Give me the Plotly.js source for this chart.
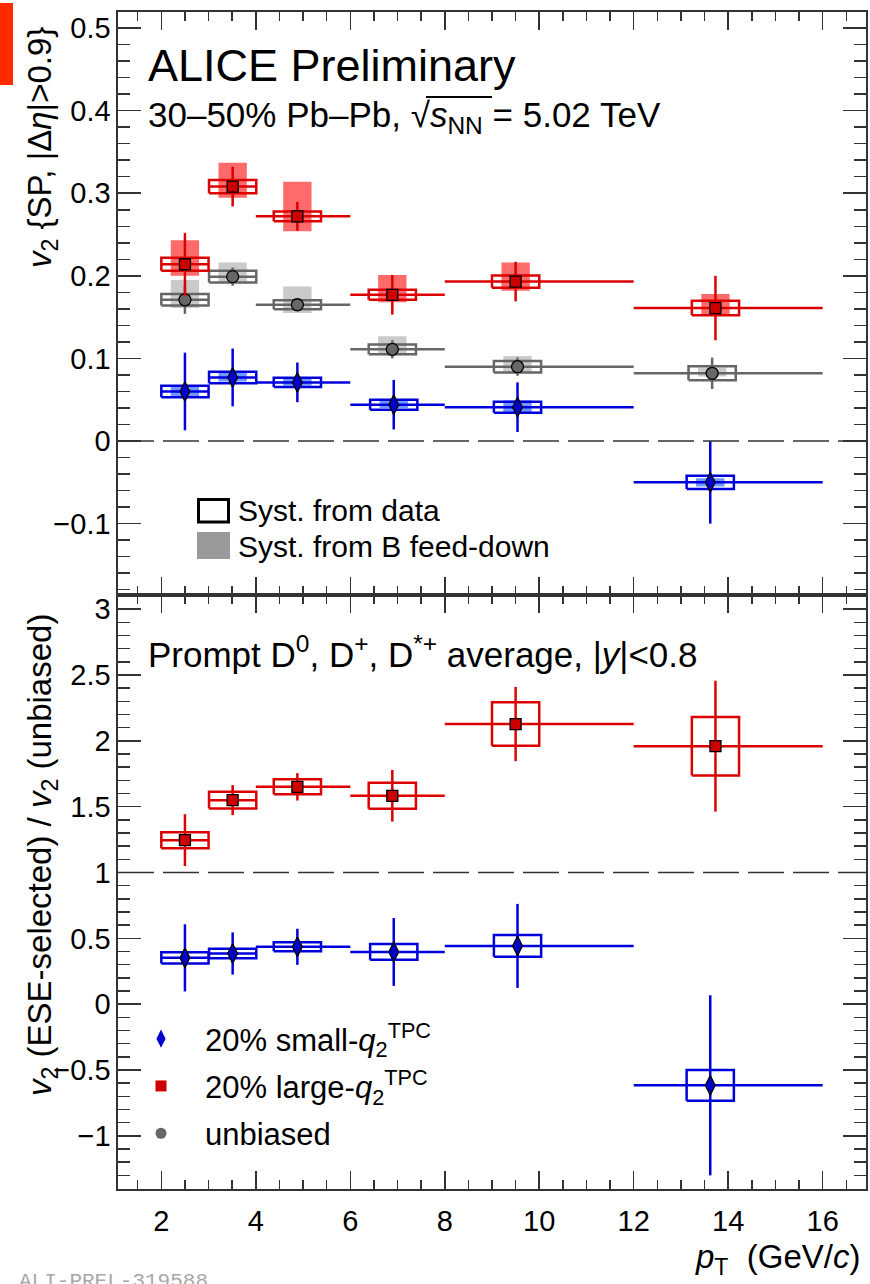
<!DOCTYPE html>
<html><head><meta charset="utf-8">
<script src="https://cdn.plot.ly/plotly-3.0.1.min.js"></script>
<style>html,body{margin:0;padding:0;background:#fff;} #chart{width:870px;height:1284px;}</style>
</head><body><div id="chart"></div>
<script>
// ---------------- data ----------------
const binLo = [2, 3, 4, 6, 8, 12];
const binHi = [3, 4, 6, 8, 12, 16];
const ptRed  = [2.50, 3.51, 4.88, 6.89, 9.50, 13.73];
const ptGray = [2.50, 3.51, 4.88, 6.89, 9.54, 13.66];
const ptBlue = [2.50, 3.51, 4.88, 6.92, 9.54, 13.62];

// v2{SP} (top panel)
const redV2      = [0.214, 0.308, 0.272, 0.177, 0.193, 0.161];
const redV2Stat  = [0.038, 0.024, 0.0175, 0.024, 0.024, 0.039];
const redV2Syst  = [0.008, 0.008, 0.006, 0.006, 0.0075, 0.0087];
const redFdUp    = [0.029, 0.029, 0.042, 0.024, 0.023, 0.017];
const redFdDn    = [0.014, 0.0135, 0.018, 0.009, 0.011, 0.009];

const grayV2     = [0.171, 0.199, 0.165, 0.111, 0.090, 0.082];
const grayV2Stat = [0.017, 0.011, 0.007, 0.011, 0.011, 0.019];
const grayV2Syst = [0.007, 0.007, 0.0055, 0.006, 0.007, 0.0085];
const grayFdUp   = [0.024, 0.017, 0.022, 0.016, 0.013, 0.007];
const grayFdDn   = [0.010, 0.008, 0.010, 0.007, 0.006, 0.004];

const blueV2     = [0.060, 0.077, 0.071, 0.044, 0.041, -0.050];
const blueV2Stat = [0.047, 0.035, 0.024, 0.030, 0.030, 0.050];
const blueV2Syst = [0.007, 0.007, 0.0057, 0.006, 0.0067, 0.008];
const blueFdUp   = [0.006, 0.006, 0.005, 0.005, 0.008, 0.005];
const blueFdDn   = [0.006, 0.005, 0.004, 0.004, 0.007, 0.005];

// ratio ESE-selected / unbiased (bottom panel)
const redRatio      = [1.246, 1.550, 1.651, 1.583, 2.128, 1.960];
const redRatioStat  = [0.197, 0.114, 0.104, 0.196, 0.282, 0.497];
const redRatioSyst  = [0.061, 0.063, 0.057, 0.099, 0.165, 0.222];
const blueRatio     = [0.352, 0.385, 0.436, 0.397, 0.443, -0.616];
const blueRatioStat = [0.255, 0.160, 0.137, 0.258, 0.319, 0.684];
const blueRatioSyst = [0.042, 0.036, 0.034, 0.060, 0.083, 0.117];

const xTickVals = [2, 4, 6, 8, 10, 12, 14, 16];

// ---------------- styling ----------------
const FONT = 'Liberation Sans, Arial, Helvetica, sans-serif';
const RED = '#dd0000', RED_M = '#cc0000', RED_F = '#ff6b6b';
const GRAY = '#666666', GRAY_M = '#676767', GRAY_F = '#cacaca';
const BLUE = '#0000dd', BLUE_M = '#0000cc', BLUE_F = '#6d98ff';
const BOX_HW = 0.5, FILL_HW = 0.3;

// pixel -> paper helpers (plot area: x 118..866, y 12..1189)
const L = 118, R = 4, T = 12, B = 95, W = 870, H = 1284;
const PW = W - L - R, PH = H - T - B;
const px = p => (p - L) / PW;
const py = p => (H - B - p) / PH;
const SPLIT = (H - B - 595) / PH;

function boxTrace(xs, ys, hs, hw, color, yaxis) {
  const bx = [], by = [];
  xs.forEach((x, i) => {
    const lo = ys[i] - hs[i], hi = ys[i] + hs[i];
    bx.push(x - hw, x + hw, x + hw, x - hw, x - hw, null);
    by.push(lo, lo, hi, hi, lo, null);
  });
  return {x: bx, y: by, xaxis: yaxis === 'y2' ? 'x2' : 'x', yaxis, mode: 'lines',
          line: {color, width: 2.5}, hoverinfo: 'skip', showlegend: false};
}
function fillTrace(xs, ys, up, dn, hw, color, yaxis) {
  const bx = [], by = [];
  xs.forEach((x, i) => {
    const lo = ys[i] - dn[i], hi = ys[i] + up[i];
    bx.push(x - hw, x + hw, x + hw, x - hw, x - hw, null);
    by.push(lo, lo, hi, hi, lo, null);
  });
  return {x: bx, y: by, xaxis: yaxis === 'y2' ? 'x2' : 'x', yaxis, mode: 'lines', fill: 'toself',
          fillcolor: color, line: {width: 0, color: color}, hoverinfo: 'skip', showlegend: false};
}
function dataTrace(xs, ys, stat, color, mcolor, symbol, size, yaxis) {
  return {x: xs, y: ys, xaxis: yaxis === 'y2' ? 'x2' : 'x', yaxis, mode: 'markers', type: 'scatter',
    marker: {symbol, size, color: mcolor, line: {color: '#000', width: 1.3}},
    error_y: {type: 'data', array: stat, arrayminus: stat, symmetric: false, color, thickness: 2.5, width: 0},
    error_x: {type: 'data', array: xs.map((x, i) => binHi[i] - x), arrayminus: xs.map((x, i) => x - binLo[i]),
              symmetric: false, color, thickness: 2.5, width: 0},
    showlegend: false, cliponaxis: true};
}
function legendTrace(name, symbol, size, color, group) {
  return {x: [null], y: [null], mode: 'markers', name, legendgroup: group,
          marker: {symbol, size, color}, showlegend: true};
}

const traces = [
  // top panel
  fillTrace(ptRed, redV2, redFdUp, redFdDn, FILL_HW, RED_F, 'y2'),
  fillTrace(ptGray, grayV2, grayFdUp, grayFdDn, FILL_HW, GRAY_F, 'y2'),
  fillTrace(ptBlue, blueV2, blueFdUp, blueFdDn, FILL_HW, BLUE_F, 'y2'),
  boxTrace(ptGray, grayV2, grayV2Syst, BOX_HW, GRAY, 'y2'),
  boxTrace(ptBlue, blueV2, blueV2Syst, BOX_HW, BLUE, 'y2'),
  boxTrace(ptRed, redV2, redV2Syst, BOX_HW, RED, 'y2'),
  dataTrace(ptGray, grayV2, grayV2Stat, GRAY, GRAY_M, 'circle', 12, 'y2'),
  dataTrace(ptBlue, blueV2, blueV2Stat, BLUE, BLUE_M, 'diamond-tall', 14, 'y2'),
  dataTrace(ptRed, redV2, redV2Stat, RED, RED_M, 'square', 11, 'y2'),
  // bottom panel
  boxTrace(ptBlue, blueRatio, blueRatioSyst, BOX_HW, BLUE, 'y'),
  boxTrace(ptRed, redRatio, redRatioSyst, BOX_HW, RED, 'y'),
  dataTrace(ptBlue, blueRatio, blueRatioStat, BLUE, BLUE_M, 'diamond-tall', 14, 'y'),
  dataTrace(ptRed, redRatio, redRatioStat, RED, RED_M, 'square', 11, 'y'),
  // legend entries
  legendTrace('20% small-<i>q</i><sub>2</sub><sup>TPC</sup>', 'diamond-tall', 13, BLUE_M, 'g1'),
  legendTrace('20% large-<i>q</i><sub>2</sub><sup>TPC</sup>', 'square', 11, RED_M, 'g2'),
  legendTrace('unbiased', 'circle', 11, GRAY, 'g3')
];

const axisCommon = {
  showline: true, linecolor: '#333', linewidth: 1.6, mirror: 'allticks',
  ticks: 'inside', tickcolor: '#333', tickwidth: 1.5,
  showgrid: false, zeroline: false,
  tickfont: {family: FONT, size: 29, color: '#000'}
};
const xCommon = Object.assign({}, axisCommon, {
  range: [1.083, 16.917], tickmode: 'array', tickvals: xTickVals, ticklen: 18,
  minor: {dtick: 0.5, tick0: 0, ticks: 'inside', ticklen: 9, tickwidth: 1.5, tickcolor: '#333', showgrid: false}
});

const ann = (text, x, y, size, extra) => Object.assign({
  xref: 'paper', yref: 'paper', x: px(x), y: py(y), xanchor: 'left', yanchor: 'middle',
  text, showarrow: false, font: {family: FONT, size, color: '#000'}
}, extra || {});

const layout = {
  width: W, height: H, margin: {l: L, r: R, t: T, b: B, pad: 0},
  paper_bgcolor: '#fff', plot_bgcolor: '#fff',
  font: {family: FONT, color: '#000'},
  xaxis: Object.assign({}, xCommon, {anchor: 'y', domain: [0, 1], ticklabelstandoff: 6}),
  xaxis2: Object.assign({}, xCommon, {anchor: 'y2', matches: 'x', showticklabels: false}),
  yaxis: Object.assign({}, axisCommon, {
    domain: [0, SPLIT], range: [-1.4035, 3.108], dtick: 0.5, tick0: 0, ticklen: 23,
    minor: {dtick: 0.1, tick0: 0, ticks: 'inside', ticklen: 12, tickwidth: 1.5, tickcolor: '#333', showgrid: false}
  }),
  yaxis2: Object.assign({}, axisCommon, {
    domain: [SPLIT, 1], range: [-0.1864, 0.5194], dtick: 0.1, tick0: 0, ticklen: 23,
    minor: {dtick: 0.02, tick0: 0, ticks: 'inside', ticklen: 12, tickwidth: 1.5, tickcolor: '#333', showgrid: false}
  }),
  showlegend: true,
  legend: {x: px(117), y: py(1012), xanchor: 'left', yanchor: 'top', bgcolor: 'rgba(0,0,0,0)',
           font: {family: FONT, size: 31, color: '#000'}, tracegroupgap: 4, itemwidth: 78,
           traceorder: 'grouped'},
  shapes: [
    {type: 'line', xref: 'paper', x0: 0, x1: 1, yref: 'y2', y0: 0, y1: 0,
     line: {color: '#333', width: 1.6, dash: '36px,9px'}},
    {type: 'line', xref: 'paper', x0: 0, x1: 1, yref: 'y', y0: 1, y1: 1,
     line: {color: '#333', width: 1.6, dash: '36px,9px'}},
    // legend keys (top panel)
    {type: 'rect', xref: 'paper', yref: 'paper', x0: px(198.5), x1: px(228.5), y0: py(499.5), y1: py(522),
     line: {color: '#000', width: 3}, fillcolor: 'rgba(0,0,0,0)'},
    {type: 'rect', xref: 'paper', yref: 'paper', x0: px(197), x1: px(230), y0: py(532), y1: py(559),
     line: {width: 0}, fillcolor: '#9a9a9a'},
    // sqrt overline
    {type: 'line', xref: 'paper', yref: 'paper', x0: px(426), x1: px(492), y0: py(97), y1: py(97),
     line: {color: '#000', width: 2}},
    // red corner tag
    {type: 'rect', xref: 'paper', yref: 'paper', x0: px(0), x1: px(13), y0: py(3), y1: py(85),
     line: {width: 0}, fillcolor: '#ff2a00'}
  ],
  annotations: [
    ann('ALICE Preliminary', 146, 66, 45),
    ann('30–50% Pb–Pb, √<i>s</i><sub>NN</sub> = 5.02 TeV', 146, 117, 35),
    ann('Prompt D<sup>0</sup>, D<sup>+</sup>, D<sup>*+</sup> average, |<i>y</i>|&lt;0.8', 146, 652, 35),
    ann('Syst. from data', 236, 510, 30),
    ann('Syst. from B feed-down', 236, 546, 30),
    ann('<i>v</i><sub>2</sub> {SP, |Δ<i>η</i>|>0.9}', 42, 148, 33, {xanchor: 'center', textangle: -90}),
    ann('<i>v</i><sub>2</sub> (ESE-selected) / <i>v</i><sub>2</sub> (unbiased)', 42, 855, 33, {xanchor: 'center', textangle: -90}),
    ann('<i>p</i><sub>T</sub>  (GeV/<i>c</i>)', 863, 1259, 33, {xanchor: 'right'}),
    ann('ALI-PREL-319588', 17, 1281, 21, {font: {family: 'Liberation Mono, DejaVu Sans Mono, monospace', size: 21, color: '#a8a8a8'}})
  ]
};

Plotly.newPlot('chart', traces, layout, {staticPlot: true, displayModeBar: false});
</script>
</body></html>
